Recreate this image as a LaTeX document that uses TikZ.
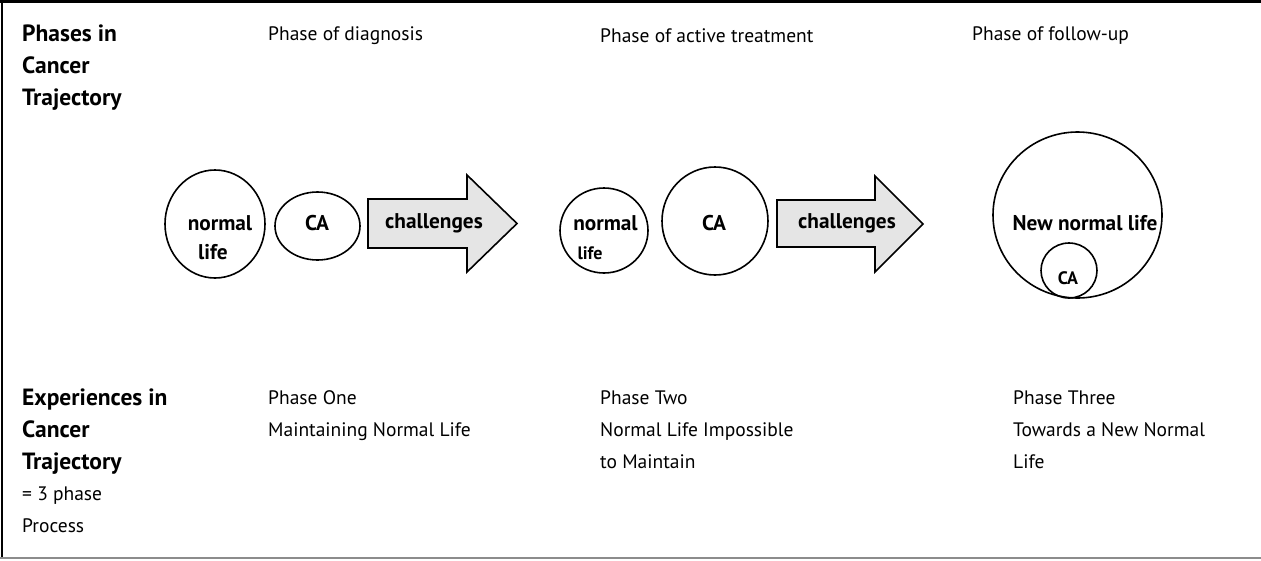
\documentclass[tikz,border=0pt]{standalone}
\usepackage{fontspec}
\setmainfont{PT Sans}
\usetikzlibrary{shapes.geometric}
\begin{document}
\begin{tikzpicture}[x=1pt,y=-1pt,
  txt/.style={anchor=west,inner sep=0pt,font=\fontsize{19.5}{32}\selectfont,align=left},
  btxt/.style={txt,font=\fontsize{23.5}{32}\selectfont\bfseries},
  lbl/.style={inner sep=0pt,font=\fontsize{21.3}{30}\selectfont\bfseries,align=center},
  ring/.style={draw=black,line width=1.6pt,ellipse,inner sep=0pt},
  arr/.style={draw=black,line width=1.6pt,fill=black!10,line join=miter}]
\useasboundingbox (0,0) rectangle (1261,560);
% frame
\draw[line width=2.5pt] (0,1.25) -- (1261,1.25);
\draw[line width=2pt] (1.5,0) -- (1.5,557);
\draw[line width=2pt,black!45] (0,557.5) -- (1261,557.5);
% top row
\node[btxt,anchor=north west] (hdrA) at (22,24.5) {Phases in\\Cancer\\Trajectory};
\node[txt] (p1) at (268,35.5) {Phase of diagnosis};
\node[txt] (p2) at (600,35.5) {Phase of active treatment};
\node[txt] (p3) at (972,35.5) {Phase of follow-up};
% phase 1
\node[ring,minimum width=100pt,minimum height=108pt] (nl1) at (215,224) {};
\node[lbl] (nl1a) at (220,223) {normal};
\node[lbl] (nl1b) at (213,252) {life};
\node[ring,minimum width=85pt,minimum height=68pt] (ca1) at (317.5,226) {};
\node[lbl] (ca1t) at (317,223) {CA};
\draw[arr] (368,199) -- (467,199) -- (467,175) -- (517,223.5) -- (467,272) -- (467,248) -- (368,248) -- cycle;
\node[lbl] (ch1) at (434,223) {challenges};
% phase 2
\node[ring,minimum width=88pt,minimum height=85pt] (nl2) at (604,230.5) {};
\node[lbl] (nl2a) at (605.5,223) {normal};
\node[lbl,font=\fontsize{18}{18}\selectfont\bfseries] (nl2b) at (590,253) {life};
\node[ring,minimum width=106pt,minimum height=108pt] (ca2) at (715,221) {};
\node[lbl] (ca2t) at (714,223) {CA};
\draw[arr] (777,200) -- (875,200) -- (875,176) -- (923,224) -- (875,272) -- (875,247) -- (777,247) -- cycle;
\node[lbl] (ch2) at (847,223) {challenges};
% phase 3
\node[ring,minimum width=169pt,minimum height=166pt] (nnl) at (1077.5,215) {};
\node[lbl] (nnlt) at (1085,223) {New normal life};
\node[ring,minimum width=56pt,minimum height=55pt] (ca3) at (1069,270.5) {};
\node[lbl,font=\fontsize{18}{18}\selectfont\bfseries] (ca3t) at (1068,278) {CA};
% bottom row
\node[btxt,anchor=north west] (hdrB) at (22,388.5) {Experiences in\\Cancer\\Trajectory};
\node[txt,anchor=north west] (hdrB2) at (22,486.5) {= 3 phase\\Process};
\node[txt,anchor=north west] (e1) at (268,390.5) {Phase One\\Maintaining Normal Life};
\node[txt,anchor=north west] (e2) at (600,390.5) {Phase Two\\Normal Life Impossible\\to Maintain};
\node[txt,anchor=north west] (e3) at (1013,390.5) {Phase Three\\Towards a New Normal\\Life};
\end{tikzpicture}
\end{document}
